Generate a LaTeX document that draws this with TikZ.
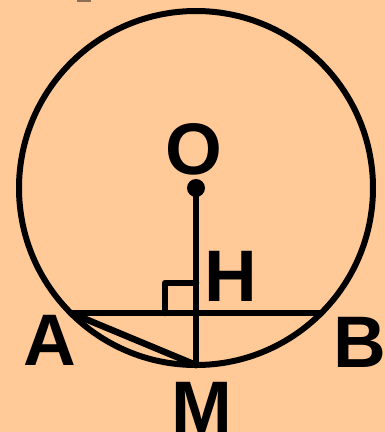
\documentclass[tikz,border=0pt]{standalone}
\usepackage{fontspec}
\setmainfont{Liberation Sans}
\definecolor{peach}{RGB}{255,202,152}
\begin{document}
\begin{tikzpicture}[x=1pt,y=-1pt,
  geo/.style={line width=6.5pt, line join=round, line cap=round},
  lbl/.style={inner sep=0pt, font=\fontsize{73}{80}\selectfont\bfseries}]
\fill[peach] (0,0) rectangle (385,432);
\useasboundingbox (0,0) rectangle (385,432);
\fill[black!45!peach] (77,0) rectangle (91,1.5);
\coordinate (O) at (196,188);
\coordinate (A) at (71,313);
\coordinate (B) at (321,313);
\coordinate (M) at (196,365);
\coordinate (H) at (196,313);
\draw[line width=6pt] (O) circle (177);
\draw[geo] (A) -- (B);
\draw[geo] (O) -- (M);
\draw[geo] (A) -- (M);
\draw[geo] (H) ++(-31,0) |- ++(31,-30);
\fill (O) circle (9);
\node[lbl] (lO) at (194,149) {O};
\node[lbl] (lH) at (231,276) {H};
\node[lbl] (lA) at (50,340) {A};
\node[lbl] (lB) at (360,342) {B};
\node[lbl] (lM) at (202,407) {M};
\end{tikzpicture}
\end{document}
